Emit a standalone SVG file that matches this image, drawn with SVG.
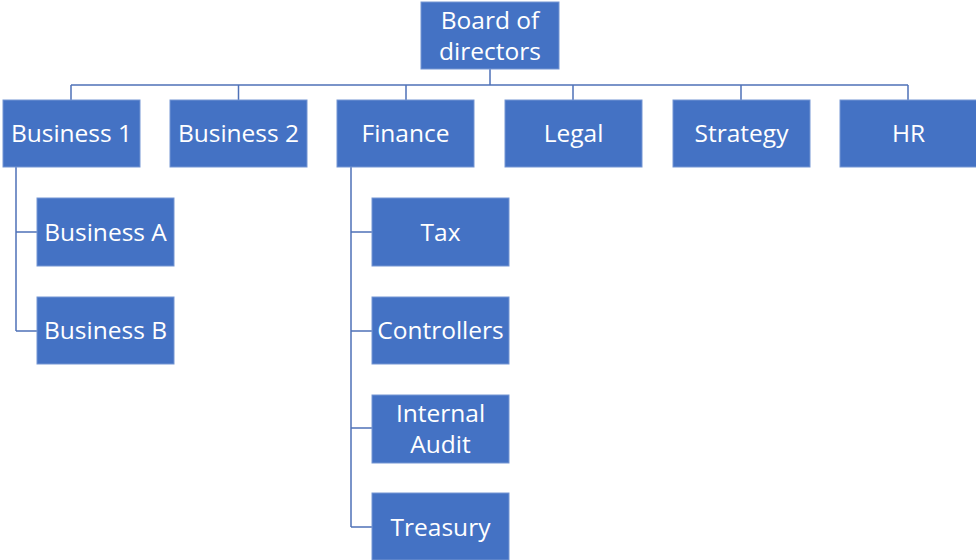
<svg xmlns="http://www.w3.org/2000/svg" width="976" height="560" viewBox="0 0 976 560">
<style>
.box{fill:#4472C4;stroke:#7496D3;stroke-width:1}
.lbl{font-family:"Open Sans","Liberation Sans",sans-serif;font-size:24.5px;fill:#ffffff;text-anchor:middle;dominant-baseline:central}
.con{fill:none;stroke:#4F72B8;stroke-width:1.5}
</style>
<rect width="976" height="560" fill="#ffffff"/>
<g id="connectors">
<path class="con" d="M490,69V85M71,85H908M71,85V100M238.5,85V100M406,85V100M573,85V100M741,85V100M908,85V100"/>
<path class="con" d="M16,167V331M16,232H37M16,331H37"/>
<path class="con" d="M351,167V527M351,232H372M351,331H372M351,428H372M351,527H372"/>
</g>
<g id="board"><rect class="box" x="421" y="2" width="138" height="67"/><text class="lbl" x="490" y="19">Board of</text><text class="lbl" x="490" y="50">directors</text></g>
<g id="business1"><rect class="box" x="3" y="100" width="137" height="67"/><text class="lbl" x="71.5" y="132.5">Business 1</text></g>
<g id="business2"><rect class="box" x="170" y="100" width="137" height="67"/><text class="lbl" x="238.5" y="132.5">Business 2</text></g>
<g id="finance"><rect class="box" x="337" y="100" width="137" height="67"/><text class="lbl" x="405.5" y="132.5">Finance</text></g>
<g id="legal"><rect class="box" x="505" y="100" width="137" height="67"/><text class="lbl" x="573.5" y="132.5">Legal</text></g>
<g id="strategy"><rect class="box" x="673" y="100" width="137" height="67"/><text class="lbl" x="741.5" y="132.5">Strategy</text></g>
<g id="hr"><rect class="box" x="840" y="100" width="137" height="67"/><text class="lbl" x="908.5" y="132.5">HR</text></g>
<g id="businessA"><rect class="box" x="37" y="198" width="137" height="68"/><text class="lbl" x="105.5" y="231">Business A</text></g>
<g id="businessB"><rect class="box" x="37" y="297" width="137" height="67"/><text class="lbl" x="105.5" y="329.5">Business B</text></g>
<g id="tax"><rect class="box" x="372" y="198" width="137" height="68"/><text class="lbl" x="440.5" y="231">Tax</text></g>
<g id="controllers"><rect class="box" x="372" y="297" width="137" height="67"/><text class="lbl" x="440.5" y="329.5">Controllers</text></g>
<g id="internalAudit"><rect class="box" x="372" y="395" width="137" height="68"/><text class="lbl" x="440.5" y="412">Internal</text><text class="lbl" x="440.5" y="443">Audit</text></g>
<g id="treasury"><rect class="box" x="372" y="493" width="137" height="67"/><text class="lbl" x="440.5" y="526">Treasury</text></g>
</svg>
